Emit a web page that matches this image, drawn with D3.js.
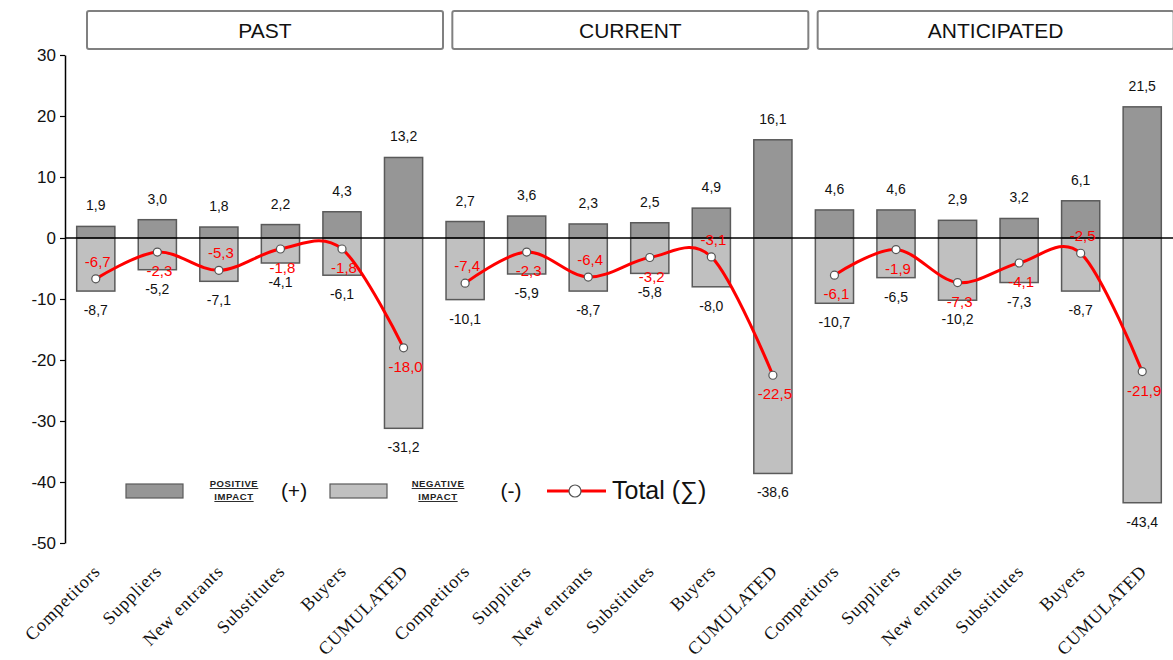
<!DOCTYPE html>
<html>
<head>
<meta charset="utf-8">
<script src="https://cdn.jsdelivr.net/npm/d3@7"></script>
<style>
  html, body { margin: 0; padding: 0; background: #fff; }
  svg { display: block; }
</style>
</head>
<body>
<svg id="chart" width="1173" height="660"></svg>
<script>
// ---------------- DATA ----------------
const groups = ["PAST", "CURRENT", "ANTICIPATED"];
const forces = ["Competitors", "Suppliers", "New entrants", "Substitutes", "Buyers", "CUMULATED"];

const positivePast        = [1.9, 3.0, 1.8, 2.2, 4.3, 13.2];
const negativePast        = [-8.7, -5.2, -7.1, -4.1, -6.1, -31.2];
const totalPast           = [-6.7, -2.3, -5.3, -1.8, -1.8, -18.0];

const positiveCurrent     = [2.7, 3.6, 2.3, 2.5, 4.9, 16.1];
const negativeCurrent     = [-10.1, -5.9, -8.7, -5.8, -8.0, -38.6];
const totalCurrent        = [-7.4, -2.3, -6.4, -3.2, -3.1, -22.5];

const positiveAnticipated = [4.6, 4.6, 2.9, 3.2, 6.1, 21.5];
const negativeAnticipated = [-10.7, -6.5, -10.2, -7.3, -8.7, -43.4];
const totalAnticipated    = [-6.1, -1.9, -7.3, -4.1, -2.5, -21.9];

const yTicks = [30, 20, 10, 0, -10, -20, -30, -40, -50];

// ---------------- BUILD ROWS ----------------
const positives = [positivePast, positiveCurrent, positiveAnticipated];
const negatives = [negativePast, negativeCurrent, negativeAnticipated];
const totals    = [totalPast, totalCurrent, totalAnticipated];

const rows = [];
groups.forEach((g, gi) => {
  forces.forEach((f, fi) => {
    rows.push({ key: g + "|" + f, group: g, gi, fi, force: f,
      pos: positives[gi][fi], neg: negatives[gi][fi], total: totals[gi][fi] });
  });
});

// label side for total labels (style: above / below the marker)
const totalLabelSide = [
  ["a","b","a","b","b","b"],
  ["a","b","a","b","a","b"],
  ["b","b","b","b","a","b"]
];

// ---------------- SETUP ----------------
const svg = d3.select("#chart");
const mLeft = 65, mRight = 1173, mTop = 55, mBottom = 543;

const x = d3.scaleBand().domain(rows.map(d => d.key)).range([mLeft, mRight])
  .paddingInner(0.38).paddingOuter(0.19);
const y = d3.scaleLinear().domain([-50, 30]).range([mBottom, mTop]);

const locale = d3.formatLocale({ decimal: ",", thousands: ".", grouping: [3], currency: ["", ""], minus: "-" });
const fmt = locale.format(".1f");

const sans = "Arial, 'Liberation Sans', sans-serif";
const serif = "'Times New Roman', 'Liberation Serif', serif";

// ---------------- HEADER BOXES ----------------
const step = x.step();
groups.forEach((g, gi) => {
  const gStart = x(g + "|" + forces[0]) - x.paddingOuter() * step;
  const bx = gStart + 22 - gi * 4;
  const bw = 356;
  svg.append("rect")
    .attr("x", bx).attr("y", 11).attr("width", bw).attr("height", 38)
    .attr("rx", 2)
    .attr("fill", "#fff").attr("stroke", "#808080").attr("stroke-width", 2);
  svg.append("text")
    .attr("x", bx + bw / 2).attr("y", 38)
    .attr("text-anchor", "middle")
    .attr("font-family", sans).attr("font-size", 21).attr("fill", "#111")
    .text(g);
});

// ---------------- Y AXIS ----------------
const yAxis = d3.axisLeft(y).tickValues(yTicks).tickSize(5).tickSizeOuter(0)
  .tickFormat(locale.format("d"));
const gy = svg.append("g").attr("transform", `translate(${mLeft},0)`).call(yAxis);
gy.select(".domain").attr("stroke", "#000").attr("stroke-width", 1.5);
gy.selectAll(".tick line").attr("stroke", "#000").attr("stroke-width", 1.2);
gy.selectAll(".tick text")
  .attr("font-family", sans).attr("font-size", 17).attr("fill", "#111")
  .attr("x", -9);

// ---------------- BARS ----------------
const barStroke = "#5a5a5a";
svg.append("g").selectAll("rect").data(rows).join("rect")
  .attr("x", d => x(d.key)).attr("width", x.bandwidth())
  .attr("y", d => y(d.pos)).attr("height", d => y(0) - y(d.pos))
  .attr("fill", "#969696").attr("stroke", barStroke).attr("stroke-width", 1.5);

svg.append("g").selectAll("rect").data(rows).join("rect")
  .attr("x", d => x(d.key)).attr("width", x.bandwidth())
  .attr("y", y(0)).attr("height", d => y(d.neg) - y(0))
  .attr("fill", "#c0c0c0").attr("stroke", barStroke).attr("stroke-width", 1.5);

// zero line
svg.append("line")
  .attr("x1", mLeft).attr("x2", mRight).attr("y1", y(0)).attr("y2", y(0))
  .attr("stroke", "#000").attr("stroke-width", 1.3);

// bar value labels
svg.append("g").selectAll("text").data(rows).join("text")
  .attr("x", d => x(d.key) + x.bandwidth() / 2)
  .attr("y", d => y(d.pos) - 16)
  .attr("text-anchor", "middle")
  .attr("font-family", sans).attr("font-size", 14).attr("fill", "#111")
  .text(d => fmt(d.pos));

svg.append("g").selectAll("text").data(rows).join("text")
  .attr("x", d => x(d.key) + x.bandwidth() / 2)
  .attr("y", d => y(d.neg) + 24)
  .attr("text-anchor", "middle")
  .attr("font-family", sans).attr("font-size", 14).attr("fill", "#111")
  .text(d => fmt(d.neg));

// ---------------- TOTAL LINES ----------------
const line = d3.line()
  .x(d => x(d.key) + x.bandwidth() / 2)
  .y(d => y(d.total))
  .curve(d3.curveCardinal.tension(0));

groups.forEach((g, gi) => {
  const gRows = rows.filter(r => r.gi === gi);
  svg.append("path").datum(gRows)
    .attr("d", line)
    .attr("fill", "none").attr("stroke", "#ff0000").attr("stroke-width", 3)
    .attr("stroke-linejoin", "round");
});

svg.append("g").selectAll("circle").data(rows).join("circle")
  .attr("cx", d => x(d.key) + x.bandwidth() / 2)
  .attr("cy", d => y(d.total))
  .attr("r", 4)
  .attr("fill", "#fff").attr("stroke", "#555").attr("stroke-width", 1.2);

svg.append("g").selectAll("text").data(rows).join("text")
  .attr("x", d => x(d.key) + x.bandwidth() / 2 + 2)
  .attr("y", d => {
    const side = totalLabelSide[d.gi][d.fi];
    return side === "a" ? y(d.total) - 12 : y(d.total) + 24;
  })
  .attr("text-anchor", "middle")
  .attr("font-family", sans).attr("font-size", 15).attr("fill", "#ff0000")
  .text(d => fmt(d.total));

// ---------------- X LABELS ----------------
svg.append("g").selectAll("text").data(rows).join("text")
  .attr("transform", d => `translate(${x(d.key) + x.bandwidth() / 2 - 4},${563}) rotate(-45)`)
  .attr("text-anchor", "end")
  .attr("dy", "0.75em")
  .attr("font-family", serif).attr("font-size", 18).attr("fill", "#111")
  .attr("letter-spacing", 0.8)
  .text(d => d.force);

// ---------------- LEGEND ----------------
const lg = svg.append("g");
const legSmall = (t, xx, yy) => lg.append("text").attr("x", xx).attr("y", yy)
  .attr("text-anchor", "middle")
  .attr("font-family", sans).attr("font-size", 9.5).attr("font-weight", "bold")
  .attr("letter-spacing", 0.6)
  .attr("text-decoration", "underline").attr("fill", "#222").text(t);

lg.append("rect").attr("x", 126).attr("y", 484).attr("width", 57).attr("height", 14)
  .attr("fill", "#969696").attr("stroke", barStroke).attr("stroke-width", 1.2);
legSmall("POSITIVE", 234, 487);
legSmall("IMPACT", 234, 500);
lg.append("text").attr("x", 294).attr("y", 498).attr("text-anchor", "middle")
  .attr("font-family", sans).attr("font-size", 21).attr("fill", "#111").text("(+)");

lg.append("rect").attr("x", 330).attr("y", 484).attr("width", 57).attr("height", 14)
  .attr("fill", "#c0c0c0").attr("stroke", barStroke).attr("stroke-width", 1.2);
legSmall("NEGATIVE", 438, 487);
legSmall("IMPACT", 438, 500);
lg.append("text").attr("x", 511).attr("y", 498).attr("text-anchor", "middle")
  .attr("font-family", sans).attr("font-size", 21).attr("fill", "#111").text("(-)");

lg.append("line").attr("x1", 547).attr("x2", 606).attr("y1", 491).attr("y2", 491)
  .attr("stroke", "#ff0000").attr("stroke-width", 3);
lg.append("circle").attr("cx", 575).attr("cy", 491).attr("r", 6)
  .attr("fill", "#fff").attr("stroke", "#555").attr("stroke-width", 1.2);
lg.append("text").attr("x", 612).attr("y", 499)
  .attr("font-family", sans).attr("font-size", 25).attr("fill", "#111").text("Total (∑)");
</script>
</body>
</html>
